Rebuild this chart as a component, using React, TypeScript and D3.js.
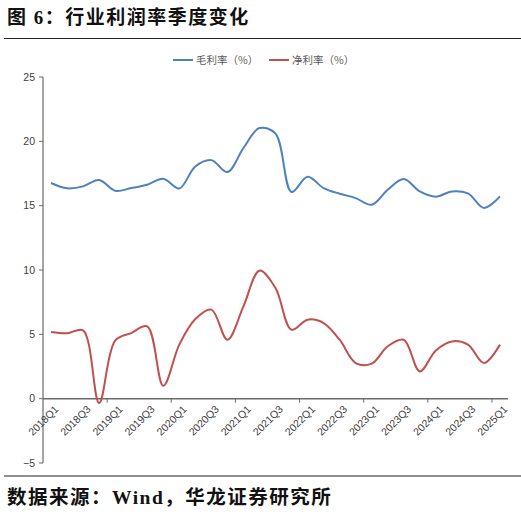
import React from 'react';
import * as d3 from 'd3';

const quarters = [
    '2018Q1', '2018Q2', '2018Q3', '2018Q4',
    '2019Q1', '2019Q2', '2019Q3', '2019Q4',
    '2020Q1', '2020Q2', '2020Q3', '2020Q4',
    '2021Q1', '2021Q2', '2021Q3', '2021Q4',
    '2022Q1', '2022Q2', '2022Q3', '2022Q4',
    '2023Q1', '2023Q2', '2023Q3', '2023Q4',
    '2024Q1', '2024Q2', '2024Q3', '2024Q4',
    '2025Q1',
];

// 毛利率 (%)
const grossMargin = [
    16.76, 16.35, 16.5, 17.0, 16.16, 16.37, 16.63, 17.09,
    16.34, 18.05, 18.54, 17.61, 19.48, 21.03, 20.6, 16.06,
    17.25, 16.37, 15.93, 15.59, 15.07, 16.24, 17.07, 16.11,
    15.7, 16.11, 15.95, 14.82, 15.72,
];

// 净利率 (%)
const netMargin = [
    5.18, 5.08, 5.31, -0.34, 4.51, 5.1, 5.62, 1.01,
    4.2, 6.19, 6.92, 4.58, 7.17, 9.95, 8.6, 5.36,
    6.14, 5.88, 4.58, 2.77, 2.72, 4.07, 4.58, 2.12,
    3.75, 4.45, 4.2, 2.77, 4.2,
];

const yTicks = [-5, 0, 5, 10, 15, 20, 25];

const seriesNames = ['毛利率（%）', '净利率（%）'];
const seriesColors = ['#4F81BD', '#C0504D'];

const W = 521;
const H = 517;
const left = 43;
const right = 508;
const top = 77;
const bottom = 463;

const axisColor = '#6b6b6b';
const labelColor = '#404040';

const App: React.FC = () => {
    const x = d3.scaleBand<string>().domain(quarters).range([left, right]).padding(0);
    const y = d3.scaleLinear().domain([-5, 25]).range([bottom, top]);
    const cx = (q: string) => (x(q) as number) + x.bandwidth() / 2;

    const line = d3.line<number>()
        .x((_, i) => cx(quarters[i]))
        .y(d => y(d))
        .curve(d3.curveCatmullRom.alpha(0.5));

    const series = [grossMargin, netMargin];
    // tick marks on the category axis every 4 quarters
    const xTickIdx = d3.range(4, quarters.length, 4);

    return (
        <svg width={W} height={H} style={{ position: 'absolute', left: 0, top: 0, background: '#fff' }}>
            <text x={7} y={24} fontSize={19} fontWeight="bold" letterSpacing={1.5}
                fontFamily="'Liberation Serif', 'Noto Sans CJK SC'" fill="#111">
                图 6：行业利润率季度变化
            </text>
            <line x1={4} x2={W} y1={38.5} y2={38.5} stroke="#222" strokeWidth={1.2} />

            {/* legend */}
            {seriesNames.map((name, i) => {
                const lx = i === 0 ? 173 : 269;
                return (
                    <g key={name}>
                        <line x1={lx} x2={lx + 20} y1={60} y2={60} stroke={seriesColors[i]} strokeWidth={2} />
                        <text x={lx + 23} y={64} fontSize={10.5} fill="#595959"
                            fontFamily="'Noto Sans CJK SC'">{name}</text>
                    </g>
                );
            })}

            {/* y axis */}
            <line x1={left} x2={left} y1={top} y2={bottom} stroke={axisColor} strokeWidth={1.2} />
            {yTicks.map(t => (
                <g key={t}>
                    <line x1={left - 4} x2={left} y1={y(t)} y2={y(t)} stroke={axisColor} strokeWidth={1} />
                    <text x={left - 8} y={y(t)} dy="0.35em" textAnchor="end" fontSize={10.5}
                        fontFamily="'Liberation Sans', Arial" fill={labelColor}>
                        {t < 0 ? `−${-t}` : t}
                    </text>
                </g>
            ))}

            {/* x axis */}
            <line x1={left} x2={right} y1={y(0)} y2={y(0)} stroke={axisColor} strokeWidth={1.5} />
            {xTickIdx.map(i => (
                <line key={i} x1={x(quarters[i])} x2={x(quarters[i])} y1={y(0)} y2={y(0) + 4}
                    stroke={axisColor} strokeWidth={1} />
            ))}
            {quarters.filter((_, i) => i % 2 === 0).map(q => (
                <text key={q} transform={`translate(${cx(q) + 3},${y(0) + 6}) rotate(-45)`}
                    textAnchor="end" dy="0.7em" fontSize={10.5}
                    fontFamily="'Liberation Sans', Arial" fill={labelColor}>
                    {q}
                </text>
            ))}

            {series.map((s, i) => (
                <path key={i} d={line(s) || ''} fill="none" stroke={seriesColors[i]} strokeWidth={2} />
            ))}

            <line x1={4} x2={W} y1={476} y2={476} stroke="#222" strokeWidth={1.2} />
            <text x={7} y={504} fontSize={19.5} fontWeight="bold" letterSpacing={1.5}
                fontFamily="'Liberation Serif', 'Noto Sans CJK SC'" fill="#111">
                数据来源：Wind，华龙证券研究所
            </text>
        </svg>
    );
};

export default App;
